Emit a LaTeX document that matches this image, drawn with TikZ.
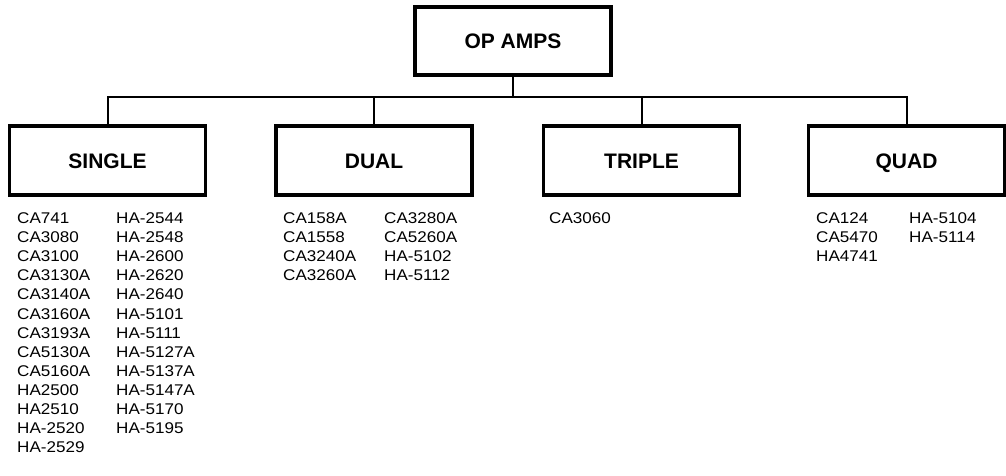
\documentclass[tikz,border=0pt]{standalone}
\usepackage{fontspec}
\setmainfont{Liberation Sans}
\newfontfamily\partfont[FakeStretch=1.1]{Liberation Sans}
\usepackage{tikz}
\tikzstyle{family} = [
    rectangle,
    draw=black,
    line width=3.5pt,
    minimum width=196pt,
    minimum height=69pt,
    inner sep=0pt,
    text height=15pt,
    text depth=0pt,
    font=\fontsize{21}{25}\selectfont\bfseries
]
\tikzstyle{partno} = [
    anchor=base west,
    inner sep=0pt,
    font=\partfont\fontsize{15.5}{19}\selectfont
]
\tikzstyle{wire} = [line width=2pt]

\begin{document}
\begin{tikzpicture}[x=1pt, y=-1pt]
\useasboundingbox (0,0) rectangle (1006,475);

\node (opamps) [family, minimum height=68pt] at (513,41) {OP AMPS};

\node (single) [family] at (107.5,160.5) {SINGLE};
\node (dual) [family] at (374,160.5) {DUAL};
\node (triple) [family] at (641.5,160.5) {TRIPLE};
\node (quad) [family] at (906.5,160.5) {QUAD};

\coordinate (bus) at (513,97);
\draw [wire] (opamps.south) -- (bus);
\draw [wire] (single.north) |- (bus) -| (quad.north);
\draw [wire] (dual.north) -- (dual.north |- bus);
\draw [wire] (triple.north) -- (triple.north |- bus);

% part numbers
\foreach \chip [count=\i] in {CA741, CA3080, CA3100, CA3130A, CA3140A,
    CA3160A, CA3193A, CA5130A, CA5160A, HA2500, HA2510, HA-2520, HA-2529}
    \node (sa-\i) [partno] at (17,204.4+19.1*\i) {\chip};
\foreach \chip [count=\i] in {HA-2544, HA-2548, HA-2600, HA-2620, HA-2640,
    HA-5101, HA-5111, HA-5127A, HA-5137A, HA-5147A, HA-5170, HA-5195}
    \node (sb-\i) [partno] at (116,204.4+19.1*\i) {\chip};

\foreach \chip [count=\i] in {CA158A, CA1558, CA3240A, CA3260A}
    \node (da-\i) [partno] at (283,204.4+19.1*\i) {\chip};
\foreach \chip [count=\i] in {CA3280A, CA5260A, HA-5102, HA-5112}
    \node (db-\i) [partno] at (384,204.4+19.1*\i) {\chip};

\node (ta-1) [partno] at (549,223.5) {CA3060};

\foreach \chip [count=\i] in {CA124, CA5470, HA4741}
    \node (qa-\i) [partno] at (816,204.4+19.1*\i) {\chip};
\foreach \chip [count=\i] in {HA-5104, HA-5114}
    \node (qb-\i) [partno] at (909,204.4+19.1*\i) {\chip};

\end{tikzpicture}
\end{document}
